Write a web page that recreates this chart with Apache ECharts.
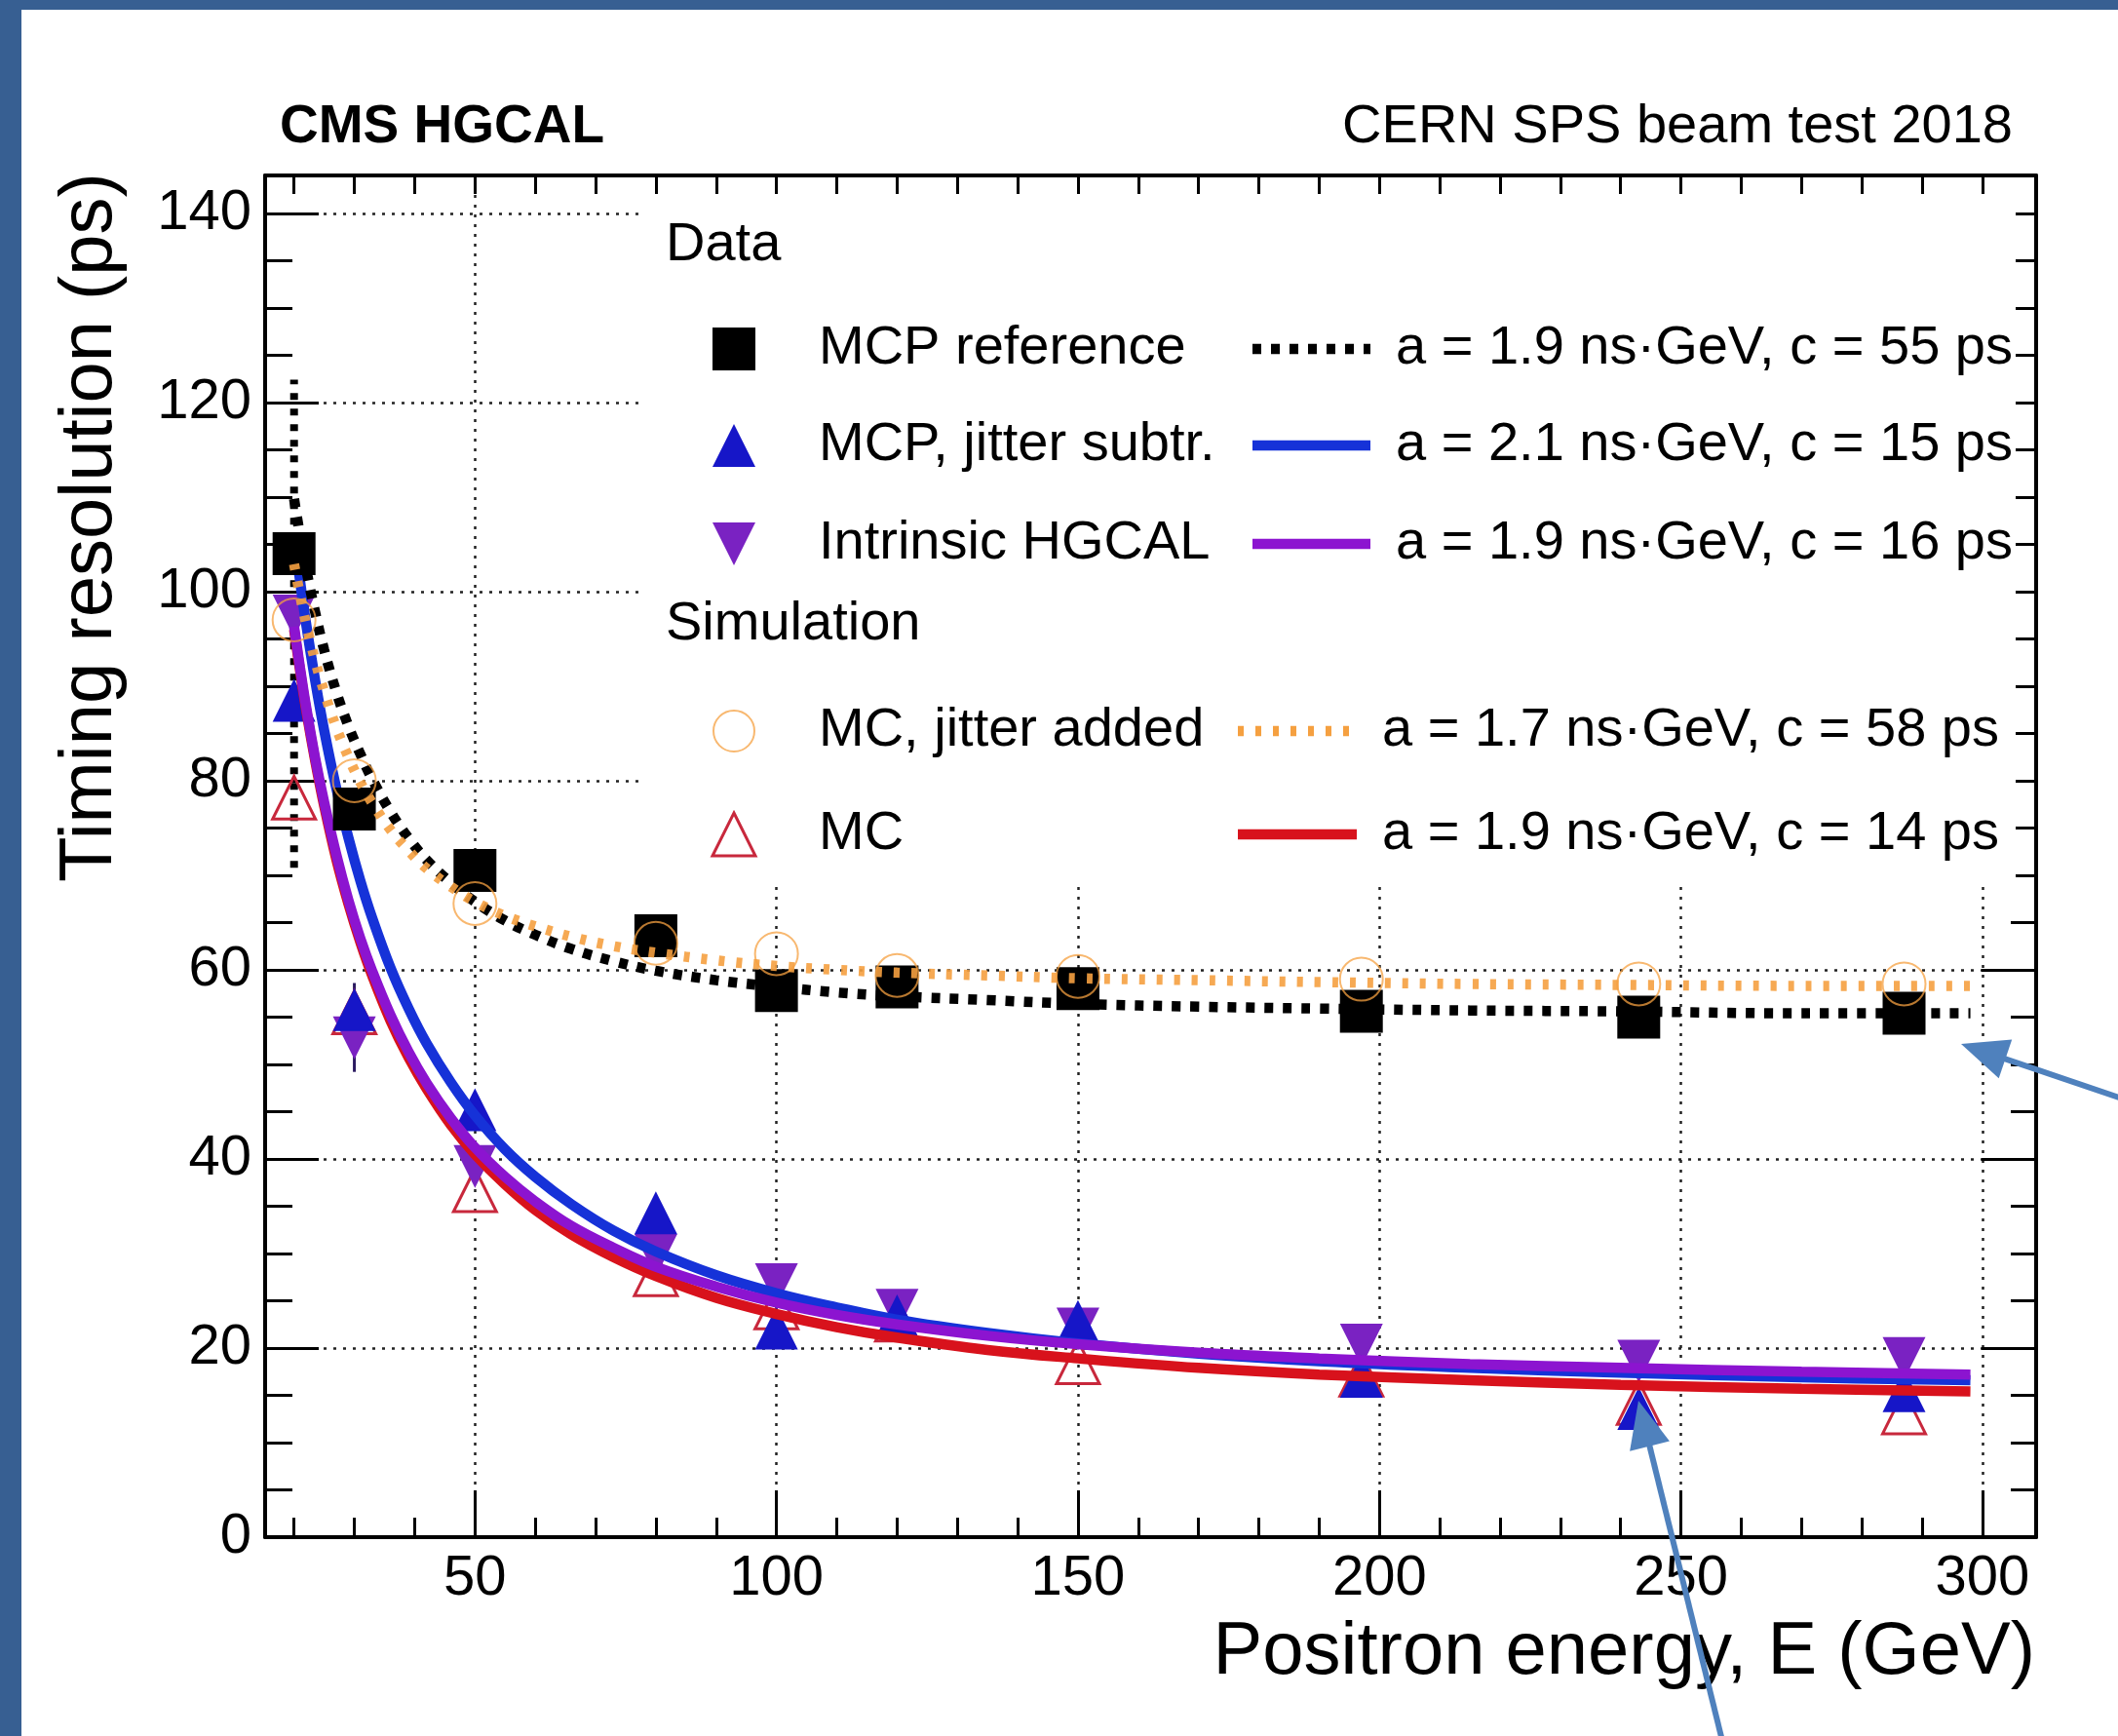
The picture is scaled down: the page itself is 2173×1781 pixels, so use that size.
<!DOCTYPE html>
<html>
<head>
<meta charset="utf-8">
<script src="https://cdn.jsdelivr.net/npm/echarts@6/dist/echarts.min.js"></script>
<style>
html,body{margin:0;padding:0;background:#ffffff;}
#c{width:2173px;height:1781px;}
</style>
</head>
<body>
<div id="c"></div>
<script>
// ---------------- DATA ----------------
const energies = [20, 30, 50, 80, 100, 120, 150, 197, 243, 287];
const mcpReference   = [104.0, 77.0, 70.5, 63.6, 57.8, 58.2, 58.0, 55.6, 55.0, 55.4];
const mcpJitterSubtr = [88.5, 55.8, 45.2, 34.3, 22.1, 23.4, 22.8, 17.0, 13.6, 15.5];
const intrinsicHgcal = [97.4, 52.8, 39.2, 29.8, 26.7, 24.0, 22.0, 20.3, 18.6, 18.9];
const mcJitterAdded  = [97.0, 80.0, 67.0, 62.8, 61.7, 59.4, 59.3, 59.0, 58.5, 58.5];
const mcSim          = [78.2, 55.5, 36.7, 27.8, 24.3, 23.0, 18.5, 17.2, 14.2, 13.2];

// error bars visible in the picture: [E, low, high]
const errMcpReference = [[20, 70.8, 122.4]];
const errTriangles    = [[30, 49.2, 58.6]];

// fitted curves
const fitEnergies     = [20, 21, 22, 23.5, 25, 27, 29, 31, 33, 36, 39, 42, 46, 50, 55, 60, 66, 73, 80, 90, 100, 110, 120, 135, 150, 170, 190, 215, 240, 270, 298];
const fitMcpReference = [109.8, 105.9, 102.4, 97.8, 93.8, 89.4, 85.8, 82.8, 80.1, 76.7, 73.9, 71.6, 69.2, 67.2, 65.2, 63.7, 62.2, 60.9, 59.9, 58.9, 58.2, 57.6, 57.2, 56.8, 56.4, 56.1, 55.9, 55.7, 55.6, 55.4, 55.4];
const fitMcpJitterSub = [106.1, 101.1, 96.6, 90.6, 85.3, 79.2, 74.0, 69.4, 65.4, 60.2, 55.9, 52.2, 48.1, 44.6, 41.0, 38.1, 35.2, 32.4, 30.2, 27.7, 25.8, 24.3, 23.0, 21.6, 20.5, 19.4, 18.6, 17.9, 17.4, 16.9, 16.6];
const fitIntrinsic    = [96.3, 91.9, 87.8, 82.4, 77.7, 72.2, 67.4, 63.3, 59.8, 55.2, 51.3, 48.0, 44.3, 41.2, 38.1, 35.5, 32.9, 30.6, 28.6, 26.5, 24.8, 23.5, 22.5, 21.3, 20.4, 19.5, 18.9, 18.3, 17.9, 17.5, 17.2];
const fitMcJitter     = [102.9, 99.6, 96.6, 92.7, 89.4, 85.6, 82.5, 79.8, 77.6, 74.8, 72.6, 70.7, 68.8, 67.2, 65.7, 64.6, 63.5, 62.5, 61.8, 61.0, 60.4, 60.0, 59.7, 59.4, 59.1, 58.9, 58.7, 58.5, 58.4, 58.3, 58.3];
const fitMc           = [96.0, 91.6, 87.5, 82.1, 77.3, 71.7, 67.0, 62.9, 59.3, 54.6, 50.7, 47.4, 43.6, 40.5, 37.3, 34.6, 32.0, 29.6, 27.6, 25.3, 23.6, 22.2, 21.1, 19.8, 18.9, 17.9, 17.2, 16.6, 16.1, 15.7, 15.4];

// axis ticks / labels
const xMajorTicks = [50, 100, 150, 200, 250, 300];
const xMinorTicks = [20, 30, 40, 50, 60, 70, 80, 90, 100, 110, 120, 130, 140, 150, 160, 170, 180, 190, 200, 210, 220, 230, 240, 250, 260, 270, 280, 290, 300];
const yMajorTicks = [0, 20, 40, 60, 80, 100, 120, 140];
const yMinorTicks = [0, 5, 10, 15, 20, 25, 30, 35, 40, 45, 50, 55, 60, 65, 70, 75, 80, 85, 90, 95, 100, 105, 110, 115, 120, 125, 130, 135, 140];

// texts
const headerLeft  = 'CMS HGCAL';
const headerRight = 'CERN SPS beam test 2018';
const xTitle = 'Positron energy, E (GeV)';
const yTitle = 'Timing resolution (ps)';
const groupTitles = ['Data', 'Simulation'];
const seriesNames = ['MCP reference', 'MCP, jitter subtr.', 'Intrinsic HGCAL', 'MC, jitter added', 'MC'];
const fitLabels = ['a = 1.9 ns·GeV, c = 55 ps', 'a = 2.1 ns·GeV, c = 15 ps', 'a = 1.9 ns·GeV, c = 16 ps', 'a = 1.7 ns·GeV, c = 58 ps', 'a = 1.9 ns·GeV, c = 14 ps'];

// ---------------- STYLE ----------------
const FONT = '"Liberation Sans", Arial, Helvetica, sans-serif';
const C_BLACK = '#000000';
const C_BLUE_M = '#1616c8';
const C_PURPLE_M = '#7a22c2';
const C_BLUE_L = '#1632d8';
const C_PURPLE_L = '#8c14d0';
const C_RED_L = '#d8121c';
const C_RED_M = '#c8283c';
const C_ORANGE = '#f5a040';
const C_BORDER = '#375f92';
const C_ARROW = '#4f81bd';
const CURVE_W = 10.5;

const pairs = (xs, ys) => xs.map((x, i) => [x, ys[i]]);

function errRender(style) {
  return function (params, api) {
    const x = api.value(0), lo = api.value(1), hi = api.value(2);
    const p1 = api.coord([x, lo]);
    const p2 = api.coord([x, hi]);
    return { type: 'line', shape: { x1: p1[0], y1: p1[1], x2: p2[0], y2: p2[1] }, style: style };
  };
}

const xBase = { type: 'value', min: 15.2, max: 308.9 };
const yBase = { type: 'value', min: 0, max: 144 };
const frameLine = { show: true, onZero: false, lineStyle: { color: '#000', width: 4 } };
const tickLine = { color: '#000', width: 3 };
const gridLine = { show: true, lineStyle: { color: '#222', width: 2.5, type: [3, 7] } };

const chart = echarts.init(document.getElementById('c'), null, { renderer: 'canvas', width: 2173, height: 1781 });

// ---------------- GRAPHIC (frame decorations, legend, titles, arrows) ----------------
const g = [];
g.push({ type: 'rect', shape: { x: 0, y: 0, width: 22, height: 1781 }, style: { fill: C_BORDER }, z: 100, silent: true });
g.push({ type: 'rect', shape: { x: 0, y: 0, width: 2173, height: 10 }, style: { fill: C_BORDER }, z: 100, silent: true });
// opaque legend box
g.push({ type: 'rect', shape: { x: 658, y: 199, width: 1410, height: 711 }, style: { fill: '#ffffff' }, z: 1, silent: true });

function txt(x, y, text, size, align, weight) {
  return { type: 'text', x: x, y: y, z: 20, silent: true,
    style: { text: text, fontSize: size, fontWeight: weight || 'normal', fontFamily: FONT, fill: '#000', align: align, verticalAlign: 'middle' } };
}
g.push(txt(287, 131, headerLeft, 55, 'left', 'bold'));
g.push(txt(2065, 131, headerRight, 56, 'right'));
g.push(txt(2088, 1696, xTitle, 76, 'right'));
g.push({ type: 'text', x: 93, y: 541, rotation: Math.PI / 2, z: 20, silent: true,
  style: { text: yTitle, fontSize: 76, fontFamily: FONT, fill: '#000', align: 'center', verticalAlign: 'middle' } });

// legend
const LS = 56;
g.push(txt(683, 252, groupTitles[0], LS, 'left'));
g.push(txt(683, 641, groupTitles[1], LS, 'left'));
const rowY = [358, 457, 558, 750, 856];
const mx = 753, hs = 22;
g.push({ type: 'rect', z: 20, shape: { x: mx - hs, y: rowY[0] - hs, width: 2 * hs, height: 2 * hs }, style: { fill: C_BLACK } });
g.push({ type: 'polygon', z: 20, shape: { points: [[mx, rowY[1] - hs], [mx + hs, rowY[1] + hs], [mx - hs, rowY[1] + hs]] }, style: { fill: C_BLUE_M } });
g.push({ type: 'polygon', z: 20, shape: { points: [[mx, rowY[2] + hs], [mx + hs, rowY[2] - hs], [mx - hs, rowY[2] - hs]] }, style: { fill: C_PURPLE_M } });
g.push({ type: 'circle', z: 20, shape: { cx: mx, cy: rowY[3], r: hs - 1 }, style: { fill: 'rgba(0,0,0,0)', stroke: C_ORANGE, lineWidth: 2, opacity: 0.75 } });
g.push({ type: 'polygon', z: 20, shape: { points: [[mx, rowY[4] - hs], [mx + hs, rowY[4] + hs], [mx - hs, rowY[4] + hs]] }, style: { fill: 'rgba(0,0,0,0)', stroke: C_RED_M, lineWidth: 3 } });
for (let i = 0; i < 5; i++) g.push(txt(840, rowY[i], seriesNames[i], LS, 'left'));
const lineStyles = [
  { stroke: C_BLACK, lineWidth: 10.5, lineDash: [9, 10] },
  { stroke: C_BLUE_L, lineWidth: CURVE_W },
  { stroke: C_PURPLE_L, lineWidth: CURVE_W },
  { stroke: C_ORANGE, lineWidth: 10.5, lineDash: [6, 12] },
  { stroke: C_RED_L, lineWidth: CURVE_W }
];
for (let i = 0; i < 5; i++) {
  const x1 = i < 3 ? 1285 : 1270, x2 = i < 3 ? 1406 : 1392;
  g.push({ type: 'line', z: 20, shape: { x1: x1, y1: rowY[i], x2: x2, y2: rowY[i] }, style: Object.assign({ lineCap: 'butt' }, lineStyles[i]) });
  g.push(txt(i < 3 ? 1432 : 1418, rowY[i], fitLabels[i], LS, 'left'));
}

// annotation arrows overlaid on the figure
function arrow(tail, tip) {
  const dx = tip[0] - tail[0], dy = tip[1] - tail[1];
  const L = Math.sqrt(dx * dx + dy * dy), ux = dx / L, uy = dy / L;
  const hl = 48, hw = 21;
  const bx = tip[0] - ux * hl, by = tip[1] - uy * hl;
  const nx = -uy, ny = ux;
  g.push({ type: 'line', z: 110, silent: true, shape: { x1: tail[0], y1: tail[1], x2: bx + ux * 4, y2: by + uy * 4 }, style: { stroke: C_ARROW, lineWidth: 6 } });
  g.push({ type: 'polygon', z: 110, silent: true, shape: { points: [tip, [bx + nx * hw, by + ny * hw], [bx - nx * hw, by - ny * hw]] }, style: { fill: C_ARROW } });
}
arrow([1768, 1790], [1681, 1437]);
arrow([2180, 1128], [2012, 1071]);

// ---------------- OPTION ----------------
const fitLine = (name, data, lineStyle, z) => ({
  type: 'line', name: name, z: z, showSymbol: false, smooth: 0.4, silent: true,
  lineStyle: lineStyle, data: data
});

const option = {
  animation: false,
  backgroundColor: '#ffffff',
  grid: { left: 272, top: 180, right: 84, bottom: 204, containLabel: false },
  xAxis: [
    Object.assign({}, xBase, { position: 'bottom', axisLine: frameLine,
      axisTick: { show: true, inside: true, length: 48, customValues: xMajorTicks, lineStyle: tickLine },
      axisLabel: { show: true, customValues: xMajorTicks, fontSize: 58, color: '#000', fontFamily: FONT, margin: 14 },
      splitLine: gridLine }),
    Object.assign({}, xBase, { position: 'bottom', axisLine: { show: false },
      axisTick: { show: true, inside: true, length: 20, customValues: xMinorTicks, lineStyle: tickLine },
      axisLabel: { show: false }, splitLine: { show: false } }),
    Object.assign({}, xBase, { position: 'top', axisLine: frameLine,
      axisTick: { show: true, inside: true, length: 19, customValues: xMinorTicks, lineStyle: tickLine },
      axisLabel: { show: false }, splitLine: { show: false } })
  ],
  yAxis: [
    Object.assign({}, yBase, { position: 'left', axisLine: frameLine,
      axisTick: { show: true, inside: true, length: 55, customValues: yMajorTicks, lineStyle: tickLine },
      axisLabel: { show: true, customValues: yMajorTicks, fontSize: 58, color: '#000', fontFamily: FONT, margin: 14 },
      splitLine: gridLine }),
    Object.assign({}, yBase, { position: 'left', axisLine: { show: false },
      axisTick: { show: true, inside: true, length: 28, customValues: yMinorTicks, lineStyle: tickLine },
      axisLabel: { show: false }, splitLine: { show: false } }),
    Object.assign({}, yBase, { position: 'right', axisLine: frameLine,
      axisTick: { show: true, inside: true, length: 56, customValues: yMajorTicks, lineStyle: tickLine },
      axisLabel: { show: false }, splitLine: { show: false } }),
    Object.assign({}, yBase, { position: 'right', axisLine: { show: false },
      axisTick: { show: true, inside: true, length: 26, customValues: yMinorTicks, lineStyle: tickLine },
      axisLabel: { show: false }, splitLine: { show: false } })
  ],
  graphic: { elements: g },
  series: [
    { type: 'custom', name: 'errMcp', z: 3, silent: true, renderItem: errRender({ stroke: '#000', lineWidth: 8, lineDash: [7, 9] }),
      data: errMcpReference, encode: { x: 0, y: [1, 2] } },
    { type: 'custom', name: 'errTri', z: 3, silent: true, renderItem: errRender({ stroke: '#2a1a60', lineWidth: 3 }),
      data: errTriangles, encode: { x: 0, y: [1, 2] } },
    { type: 'scatter', name: seriesNames[4], z: 4, symbol: 'triangle', symbolSize: 44, silent: true,
      itemStyle: { color: 'rgba(0,0,0,0)', borderColor: C_RED_M, borderWidth: 3, opacity: 1 }, data: pairs(energies, mcSim) },
    { type: 'scatter', name: seriesNames[2], z: 5, symbol: 'triangle', symbolRotate: 180, symbolSize: 44, silent: true,
      itemStyle: { color: C_PURPLE_M, opacity: 1 }, data: pairs(energies, intrinsicHgcal) },
    { type: 'scatter', name: seriesNames[1], z: 5, symbol: 'triangle', symbolSize: 44, silent: true,
      itemStyle: { color: C_BLUE_M, opacity: 1 }, data: pairs(energies, mcpJitterSubtr) },
    fitLine('fitMc', pairs(fitEnergies, fitMc), { color: C_RED_L, width: CURVE_W }, 7),
    fitLine('fitMcpJitterSub', pairs(fitEnergies, fitMcpJitterSub), { color: C_BLUE_L, width: CURVE_W }, 7),
    fitLine('fitIntrinsic', pairs(fitEnergies, fitIntrinsic), { color: C_PURPLE_L, width: CURVE_W }, 7),
    fitLine('fitMcpReference', pairs(fitEnergies, fitMcpReference), { color: C_BLACK, width: 10.5, type: [9, 10], cap: 'butt' }, 7),
    { type: 'scatter', name: seriesNames[0], z: 9, symbol: 'rect', symbolSize: 44, silent: true,
      itemStyle: { color: C_BLACK, opacity: 1 }, data: pairs(energies, mcpReference) },
    fitLine('fitMcJitter', pairs(fitEnergies, fitMcJitter), { color: C_ORANGE, width: 10.5, type: [6, 12], cap: 'butt', opacity: 0.9 }, 10),
    { type: 'scatter', name: seriesNames[3], z: 11, symbol: 'circle', symbolSize: 44, silent: true,
      itemStyle: { color: 'rgba(0,0,0,0)', borderColor: C_ORANGE, borderWidth: 2, opacity: 0.75 }, data: pairs(energies, mcJitterAdded) }
  ]
};
chart.setOption(option);
</script>
</body>
</html>
